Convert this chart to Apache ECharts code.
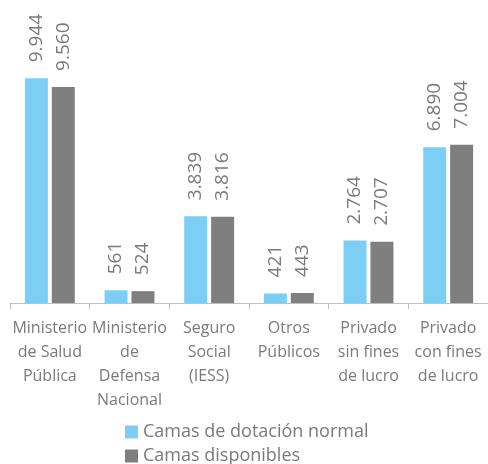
<!DOCTYPE html>
<html>
<head>
<meta charset="utf-8">
<script src="https://cdn.jsdelivr.net/npm/echarts@6/dist/echarts.min.js"></script>
<style>
  html, body { margin: 0; padding: 0; background: #fff; }
  #main { width: 488px; height: 464px; }
</style>
</head>
<body>
<div id="main"></div>
<script>
// datos
const categorias = ['Ministerio\nde Salud\nPública', 'Ministerio\nde\nDefensa\nNacional', 'Seguro\nSocial\n(IESS)', 'Otros\nPúblicos', 'Privado\nsin fines\nde lucro', 'Privado\ncon fines\nde lucro'];
const dotacionNormal = [9944, 561, 3839, 421, 2764, 6890];
const disponibles = [9560, 524, 3816, 443, 2707, 7004];
const nombres = ['Camas de dotación normal', 'Camas disponibles'];

const fuente = '"Open Sans", sans-serif';
const gris = '#7a7a7a';

// separador de miles con punto
const fmt = v => String(v.value).replace(/\B(?=(\d{3})+(?!\d))/g, '.');

const etiqueta = {
    show: true,
    position: 'top',
    rotate: 90,
    align: 'left',
    verticalAlign: 'middle',
    distance: 16,
    color: gris,
    fontFamily: fuente,
    fontSize: 19,
    formatter: fmt
};

// una leyenda por fila
const leyenda = (nombre, top) => ({
    orient: 'vertical',
    left: 120,
    top: top,
    itemWidth: 13,
    itemHeight: 13,
    itemGap: 6,
    icon: 'rect',
    textStyle: { color: gris, fontFamily: fuente, fontSize: 18 },
    data: [nombre]
});

const myChart = echarts.init(document.getElementById('main'));
myChart.setOption({
    animation: false,
    grid: { left: 10, right: -2, top: 77, bottom: 161 },
    legend: [leyenda(nombres[0], 418), leyenda(nombres[1], 442)],
    xAxis: {
        type: 'category',
        data: categorias,
        axisLine: { lineStyle: { color: '#bfbfbf' } },
        axisTick: { show: true, length: 6, lineStyle: { color: '#bfbfbf' } },
        axisLabel: {
            interval: 0,
            margin: 13,
            color: gris,
            fontFamily: fuente,
            fontSize: 16,
            lineHeight: 24
        }
    },
    yAxis: {
        type: 'value',
        min: 0,
        max: 10000,
        show: false,
        splitLine: { show: false }
    },
    series: [
        {
            name: nombres[0],
            type: 'bar',
            data: dotacionNormal,
            barWidth: 23,
            barGap: '17%',
            itemStyle: { color: '#7dcef4' },
            label: etiqueta
        },
        {
            name: nombres[1],
            type: 'bar',
            data: disponibles,
            barWidth: 23,
            itemStyle: { color: '#7f7f7f' },
            label: etiqueta
        }
    ]
});
</script>
</body>
</html>
